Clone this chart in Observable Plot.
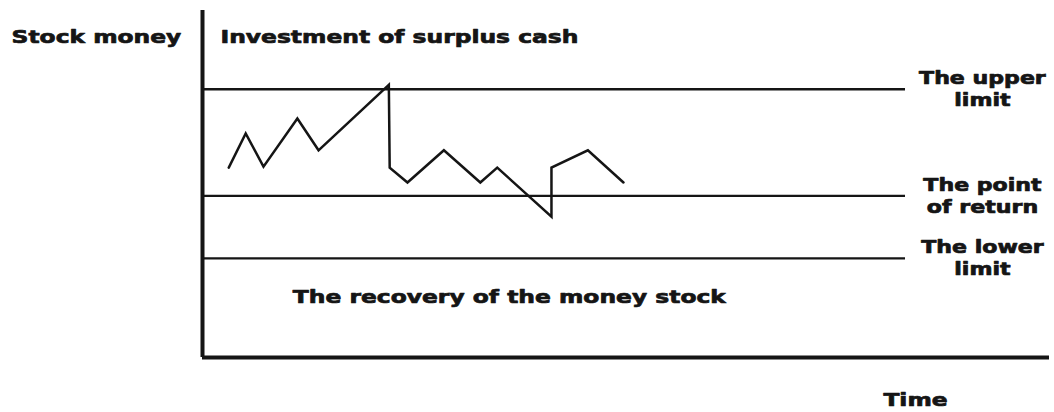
<!DOCTYPE html>
<html>
<head>
<meta charset="utf-8">
<script src="https://cdn.jsdelivr.net/npm/d3@7"></script>
<script src="https://cdn.jsdelivr.net/npm/@observablehq/plot@0.6"></script>
<style>
  html, body { margin: 0; padding: 0; background: #fff; }
</style>
</head>
<body>
<div id="chart"></div>
<script>
// ---- data ----
const timePoints  = [3.1, 5.1, 7.2, 11.2, 13.7, 22.0, 22.1, 24.2, 28.5, 32.8, 34.8, 41.2, 41.2, 45.5, 49.7];
const moneyPoints = [38.3, 45.2, 38.5, 48.2, 41.8, 55.0, 38.3, 35.3, 41.8, 35.3, 38.3, 28.4, 38.3, 41.8, 35.3];

const limitLevels = [54.1, 32.6, 20.0];
const limitLabels = ["The upper\nlimit", "The point\nof return", "The lower\nlimit"];
const limitSpan   = [0, 83];           // time range covered by the guide lines

const yTitle   = "Stock money";
const topNote  = "Investment of surplus cash";
const lowNote  = "The recovery of the money stock";
const xTitle   = "Time";

// ---- tables built from the arrays ----
const path = timePoints.map((t, i) => ({t, m: moneyPoints[i]}));
const limits = limitLevels.map((v, i) => ({level: v, label: limitLabels[i], x1: limitSpan[0], x2: limitSpan[1]}));

const ink = "#151515";
const font = {fontFamily: "DejaVu Sans", fontWeight: "bold", fill: ink, stroke: ink, strokeWidth: 0.7};

const chart = Plot.plot({
  width: 1054,
  height: 412,
  marginLeft: 202,
  marginRight: 5,
  marginTop: 10,
  marginBottom: 55,
  x: {domain: [0, 100], axis: null},
  y: {domain: [0, 70], axis: null},
  style: {background: "#fff"},
  marks: [
    Plot.ruleY(limits, {y: "level", x1: "x1", x2: "x2", stroke: ink, strokeWidth: 2.4}),
    Plot.line(path, {x: "t", y: "m", stroke: ink, strokeWidth: 2.5, strokeLinejoin: "miter", strokeMiterlimit: 4}),
    Plot.ruleX([0], {stroke: ink, strokeWidth: 4}),
    Plot.ruleY([0], {stroke: ink, strokeWidth: 4}),
    Plot.text(limits, {y: "level", text: "label", frameAnchor: "right", dx: -67, dy: -1,
      textAnchor: "middle", lineAnchor: "middle", lineHeight: 1.3, fontSize: 17, ...font}),
    Plot.text([yTitle], {frameAnchor: "top-left", dx: -106, dy: 27, textAnchor: "middle", lineAnchor: "middle", fontSize: 18, ...font}),
    Plot.text([topNote], {frameAnchor: "top-left", dx: 18, dy: 27, textAnchor: "start", lineAnchor: "middle", fontSize: 18, ...font}),
    Plot.text([lowNote], {frameAnchor: "bottom-left", dx: 307, dy: -60, textAnchor: "middle", lineAnchor: "middle", fontSize: 18, ...font}),
    Plot.text([xTitle], {frameAnchor: "bottom-left", dx: 713, dy: 43, textAnchor: "middle", lineAnchor: "middle", fontSize: 18, ...font})
  ]
});

document.getElementById("chart").appendChild(chart);

// The reference lettering is stretched horizontally; widen each label about its anchor.
const stretch = 1.3;
chart.querySelectorAll("text").forEach(t => {
  const bb = t.getBBox();
  const anchor = getComputedStyle(t).textAnchor;
  const cx = anchor === "middle" ? bb.x + bb.width / 2 : anchor === "end" ? bb.x + bb.width : bb.x;
  const tr = t.getAttribute("transform") || "";
  t.setAttribute("transform", `${tr} translate(${cx},0) scale(${stretch},1) translate(${-cx},0)`);
});
</script>
</body>
</html>
